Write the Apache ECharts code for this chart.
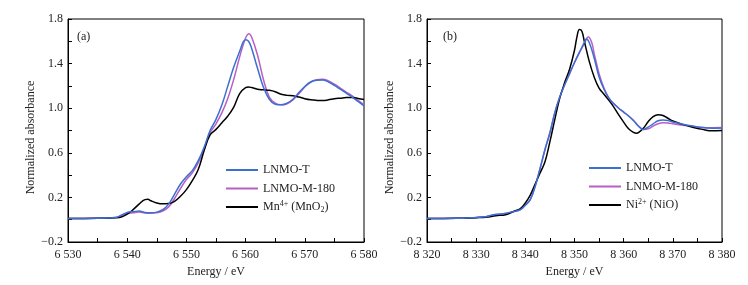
<!DOCTYPE html>
<html>
<head>
<meta charset="utf-8">
<script src="https://cdn.jsdelivr.net/npm/echarts@6/dist/echarts.min.js"></script>
<style>
  html, body { margin: 0; padding: 0; background: #fff; }
  #xanesChart { width: 748px; height: 285px; }
</style>
</head>
<body>
<div id="xanesChart"></div>
<script>
// (a) Mn K-edge
const mnEnergyT = [6530, 6535, 6538, 6539, 6540, 6541, 6542, 6543, 6544, 6545, 6546, 6547, 6548, 6549, 6550, 6551, 6552, 6553, 6554, 6555, 6556, 6557, 6558, 6559, 6559.6, 6560, 6560.5, 6561, 6562, 6563, 6564, 6565, 6566, 6567, 6568, 6569, 6570, 6571, 6572, 6573, 6574, 6575, 6576, 6577, 6578, 6579, 6580];
const mnLnmoT = [0.01, 0.012, 0.02, 0.04, 0.065, 0.072, 0.078, 0.065, 0.062, 0.068, 0.09, 0.14, 0.23, 0.32, 0.385, 0.44, 0.53, 0.65, 0.8, 0.9, 1.03, 1.2, 1.37, 1.51, 1.595, 1.615, 1.6, 1.54, 1.36, 1.19, 1.08, 1.035, 1.03, 1.045, 1.08, 1.14, 1.195, 1.235, 1.25, 1.252, 1.235, 1.205, 1.17, 1.135, 1.1, 1.06, 1.02];

const mnEnergyM = [6530, 6535, 6538, 6539, 6540, 6541, 6542, 6543, 6544, 6545, 6546, 6547, 6548, 6549, 6550, 6551, 6552, 6553, 6554, 6555, 6556, 6557, 6558, 6559, 6560, 6560.6, 6561, 6562, 6563, 6564, 6565, 6566, 6567, 6568, 6569, 6570, 6571, 6572, 6573, 6574, 6575, 6576, 6577, 6578, 6579, 6580];
const mnLnmoM = [0.01, 0.012, 0.02, 0.035, 0.055, 0.062, 0.068, 0.06, 0.058, 0.062, 0.078, 0.115, 0.19, 0.28, 0.36, 0.42, 0.51, 0.64, 0.78, 0.86, 0.96, 1.09, 1.26, 1.46, 1.63, 1.668, 1.64, 1.48, 1.26, 1.1, 1.045, 1.03, 1.04, 1.075, 1.13, 1.19, 1.235, 1.255, 1.26, 1.245, 1.215, 1.18, 1.145, 1.11, 1.07, 1.03];

const mnEnergyRef = [6530, 6535, 6538, 6539, 6540, 6541, 6542, 6543, 6543.5, 6544, 6545, 6546, 6547, 6548, 6549, 6550, 6551, 6552, 6553, 6554, 6555, 6556, 6557, 6558, 6559, 6560, 6560.5, 6561, 6562, 6563, 6564, 6565, 6566, 6567, 6568, 6569, 6570, 6571, 6572, 6573, 6574, 6575, 6576, 6577, 6578, 6579, 6580];
const mnRef = [0.01, 0.012, 0.018, 0.025, 0.05, 0.09, 0.14, 0.18, 0.183, 0.17, 0.15, 0.142, 0.145, 0.165, 0.21, 0.27, 0.35, 0.45, 0.62, 0.76, 0.81, 0.87, 0.93, 1.01, 1.13, 1.185, 1.19, 1.185, 1.17, 1.165, 1.16, 1.148, 1.125, 1.115, 1.112, 1.1, 1.085, 1.075, 1.07, 1.068, 1.075, 1.085, 1.09, 1.095, 1.095, 1.088, 1.078];

// (b) Ni K-edge
const niEnergyT = [8320, 8326, 8330, 8332, 8333.5, 8335.5, 8337.5, 8339, 8340, 8341, 8342, 8343, 8344, 8345, 8346, 8347, 8348, 8349, 8350, 8351, 8352, 8352.4, 8353, 8354, 8355, 8356, 8357, 8358, 8359, 8360, 8361, 8362, 8363, 8364, 8365, 8366, 8367, 8368, 8369, 8370, 8372, 8374, 8376, 8378, 8380];
const niLnmoT = [0.01, 0.012, 0.02, 0.026, 0.044, 0.053, 0.072, 0.09, 0.13, 0.18, 0.3, 0.46, 0.63, 0.78, 0.96, 1.1, 1.21, 1.31, 1.41, 1.5, 1.59, 1.62, 1.59, 1.45, 1.28, 1.17, 1.09, 1.04, 1.0, 0.965, 0.93, 0.89, 0.84, 0.81, 0.83, 0.86, 0.887, 0.895, 0.89, 0.877, 0.857, 0.84, 0.826, 0.82, 0.822];

const niEnergyM = [8320, 8326, 8330, 8332, 8333.5, 8335.5, 8337.5, 8339, 8340, 8341, 8342, 8343, 8344, 8345, 8346, 8347, 8348, 8349, 8350, 8351, 8352, 8352.8, 8353.5, 8354, 8355, 8356, 8357, 8358, 8359, 8360, 8361, 8362, 8363, 8364, 8365, 8366, 8367, 8368, 8369, 8370, 8372, 8374, 8376, 8378, 8380];
const niLnmoM = [0.01, 0.012, 0.02, 0.026, 0.044, 0.053, 0.072, 0.09, 0.13, 0.18, 0.3, 0.46, 0.63, 0.78, 0.96, 1.1, 1.21, 1.31, 1.41, 1.5, 1.58, 1.638, 1.59, 1.49, 1.31, 1.18, 1.09, 1.04, 1.0, 0.965, 0.93, 0.89, 0.84, 0.808, 0.815, 0.84, 0.86, 0.87, 0.868, 0.86, 0.848, 0.838, 0.828, 0.825, 0.826];

const niEnergyRef = [8320, 8326, 8330, 8332, 8334, 8336, 8337.6, 8339, 8340, 8341, 8342, 8343, 8344, 8345, 8346, 8347, 8348, 8349, 8350, 8350.5, 8351, 8351.5, 8352, 8353, 8354, 8355, 8356, 8357, 8358, 8359, 8360, 8361, 8362, 8362.6, 8363, 8364, 8365, 8366, 8367, 8368, 8369, 8370, 8372, 8374, 8376, 8378, 8380];
const niRef = [0.01, 0.012, 0.018, 0.022, 0.036, 0.045, 0.074, 0.1, 0.15, 0.22, 0.32, 0.42, 0.52, 0.7, 0.9, 1.09, 1.23, 1.35, 1.52, 1.64, 1.705, 1.69, 1.6, 1.42, 1.28, 1.18, 1.125, 1.07, 1.01, 0.94, 0.875, 0.815, 0.783, 0.775, 0.78, 0.82, 0.88, 0.925, 0.942, 0.935, 0.91, 0.885, 0.855, 0.83, 0.81, 0.797, 0.8];

const yTicks = [-0.2, 0.2, 0.6, 1.0, 1.4, 1.8];

const colors = ["#3b6fd0", "#b85fc6", "#000000"];
const serif = "Liberation Serif";

function pairs(xs, ys) {
  return xs.map((x, i) => [x, ys[i]]);
}

function makeX(idx, min, max) {
  return {
    type: "value",
    gridIndex: idx,
    min: min,
    max: max,
    interval: 10,
    name: "Energy / eV",
    nameLocation: "middle",
    nameGap: 24,
    nameTextStyle: { fontFamily: serif, fontSize: 12, color: "#222" },
    axisLine: { show: true, onZero: false, lineStyle: { color: "#000", width: 1 } },
    axisTick: { show: true, inside: true, length: 4, lineStyle: { color: "#000" } },
    minorTick: { show: true, splitNumber: 2, length: 4, lineStyle: { color: "#000" } },
    splitLine: { show: false },
    axisLabel: {
      fontFamily: serif,
      fontSize: 12,
      color: "#222",
      margin: 7,
      formatter: (v) => {
        const s = String(v);
        return s.slice(0, 1) + " " + s.slice(1);
      },
    },
  };
}

function makeY(idx) {
  return {
    type: "value",
    gridIndex: idx,
    min: yTicks[0],
    max: yTicks[yTicks.length - 1],
    interval: 0.4,
    name: "Normalized absorbance",
    nameLocation: "middle",
    nameGap: 28,
    nameTextStyle: { fontFamily: serif, fontSize: 12, color: "#222", padding: [0, 14, 0, 0] },
    axisLine: { show: true, onZero: false, lineStyle: { color: "#000", width: 1 } },
    axisTick: { show: true, inside: true, length: 4, lineStyle: { color: "#000" } },
    minorTick: { show: true, splitNumber: 2, length: 4, lineStyle: { color: "#000" } },
    splitLine: { show: false },
    axisLabel: {
      fontFamily: serif,
      fontSize: 12,
      color: "#222",
      margin: 5,
      formatter: (v) => v.toFixed(1).replace("-", "\u2212"),
    },
  };
}

function line(name, idx, data, color) {
  return {
    type: "line",
    name: name,
    xAxisIndex: idx,
    yAxisIndex: idx,
    data: data,
    smooth: 0.4,
    symbol: "none",
    color: color,
    lineStyle: { color: color, width: 1.5 },
    z: name.indexOf("LNMO-T") === 0 ? 4 : 3,
  };
}

const legendText = {
  fontFamily: serif,
  fontSize: 12,
  color: "#222",
  lineHeight: 14,
  rich: {
    n: { fontFamily: serif, fontSize: 12, color: "#222", lineHeight: 14 },
    sup: { fontFamily: serif, fontSize: 8, color: "#222", lineHeight: 8, verticalAlign: "top" },
    sub: { fontFamily: serif, fontSize: 8, color: "#222", lineHeight: 8, verticalAlign: "bottom" },
  },
};

function legendFormat(name) {
  if (name === "Mn4+ (MnO2)") return "{n|Mn}{sup|4+}{n| (MnO}{sub|2}{n|)}";
  if (name === "Ni2+ (NiO)") return "{n|Ni}{sup|2+}{n| (NiO)}";
  return "{n|" + name + "}";
}

function makeLegend(left, top, names) {
  return {
    orient: "vertical",
    left: left,
    top: top,
    padding: 0,
    icon: "rect",
    itemWidth: 32,
    itemHeight: 2,
    itemGap: 4.5,
    data: names,
    formatter: legendFormat,
    textStyle: legendText,
  };
}

const chart = echarts.init(document.getElementById("xanesChart"));

chart.setOption({
  animation: false,
  backgroundColor: "#fff",
  title: [
    { text: "(a)", left: 72, top: 26, textStyle: { fontFamily: serif, fontSize: 12, fontWeight: "normal", color: "#222" } },
    { text: "(b)", left: 438, top: 26, textStyle: { fontFamily: serif, fontSize: 12, fontWeight: "normal", color: "#222" } },
  ],
  grid: [
    { left: 68, top: 19, width: 296, height: 223, show: true, borderColor: "#000", borderWidth: 1 },
    { left: 427, top: 19, width: 295, height: 223, show: true, borderColor: "#000", borderWidth: 1 },
  ],
  xAxis: [makeX(0, 6530, 6580), makeX(1, 8320, 8380)],
  yAxis: [makeY(0), makeY(1)],
  legend: [
    makeLegend(226, 163, ["LNMO-T", "LNMO-M-180", "Mn4+ (MnO2)"]),
    makeLegend(589, 161, ["LNMO-T", "LNMO-M-180", "Ni2+ (NiO)"]),
  ],
  series: [
    line("LNMO-M-180", 0, pairs(mnEnergyM, mnLnmoM), colors[1]),
    line("LNMO-T", 0, pairs(mnEnergyT, mnLnmoT), colors[0]),
    line("Mn4+ (MnO2)", 0, pairs(mnEnergyRef, mnRef), colors[2]),
    line("LNMO-M-180", 1, pairs(niEnergyM, niLnmoM), colors[1]),
    line("LNMO-T", 1, pairs(niEnergyT, niLnmoT), colors[0]),
    line("Ni2+ (NiO)", 1, pairs(niEnergyRef, niRef), colors[2]),
  ],
});
</script>
</body>
</html>
